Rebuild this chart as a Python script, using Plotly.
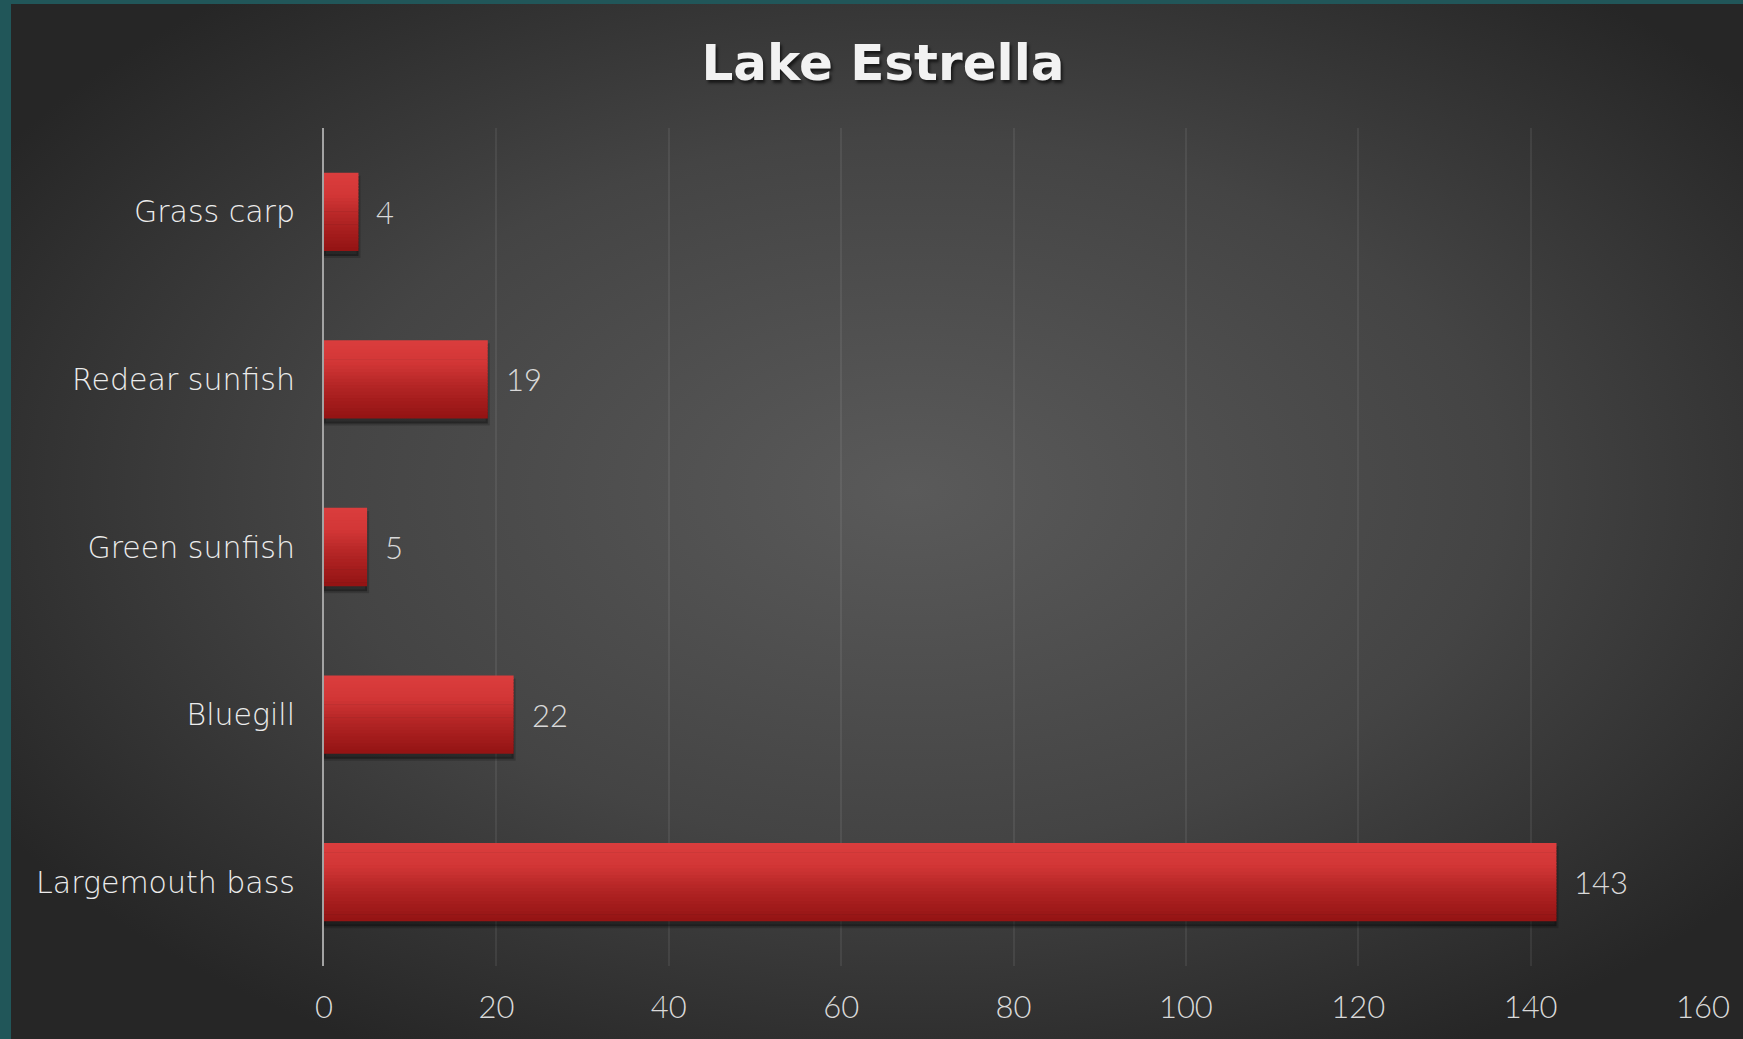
import base64
import plotly.graph_objects as go

# ---- data ----
title = "Lake Estrella"
categories = ["Largemouth bass", "Bluegill", "Green sunfish", "Redear sunfish", "Grass carp"]
counts = [143, 22, 5, 19, 4]
x_ticks = [0, 20, 40, 60, 80, 100, 120, 140, 160]

# ---- geometry / style ----
W, H = 1743, 1039
L, R, T, B = 324, 40, 128, 73
BAR_W = 0.467
label_color = "#d9d9d9"
cat_color = "#ececec"
NUM_FONT = "Lato"
CAT_FONT = "DejaVu Sans"

# background: teal frame + radial dark-grey gradient
svg = f'''<svg xmlns="http://www.w3.org/2000/svg" width="{W}" height="{H}" viewBox="0 0 {W} {H}" preserveAspectRatio="none">
<defs><radialGradient id="g" cx="0.52" cy="0.47" r="0.62" gradientUnits="objectBoundingBox">
<stop offset="0" stop-color="#5a5a5a"/><stop offset="0.55" stop-color="#444444"/><stop offset="1" stop-color="#262626"/></radialGradient></defs>
<rect width="{W}" height="{H}" fill="#215659"/>
<rect x="11" y="4" width="{W-11}" height="{H-4}" fill="url(#g)"/></svg>'''
bg_src = "data:image/svg+xml;base64," + base64.b64encode(svg.encode()).decode()

pw = W - L - R
ph = H - T - B

fig = go.Figure()

# shadow
fig.add_trace(go.Bar(
    y=categories, x=counts, orientation="h",
    width=BAR_W, offset=-BAR_W / 2 - 0.03,
    marker=dict(color="rgba(0,0,0,0.35)", line=dict(color="rgba(0,0,0,0.18)", width=4)),
    hoverinfo="skip", showlegend=False,
))

# vertical gradient built from bands
stops = [(0.0, (0xdb, 0x3d, 0x3d)), (0.3, (0xd2, 0x36, 0x36)),
         (0.6, (0xb3, 0x25, 0x25)), (1.0, (0x93, 0x13, 0x13))]

def col_at(t):
    for (t0, c0), (t1, c1) in zip(stops[:-1], stops[1:]):
        if t <= t1:
            f = (t - t0) / (t1 - t0)
            return "rgb(%d,%d,%d)" % tuple(round(a + (b - a) * f) for a, b in zip(c0, c1))
    return "rgb(%d,%d,%d)" % stops[-1][1]

N = 24
h = BAR_W / N
top = BAR_W / 2
for i in range(N):
    ov = 0.004 if i > 0 else 0.0
    fig.add_trace(go.Bar(
        y=categories, x=counts, orientation="h",
        width=h + ov, offset=top - (i + 1) * h,
        marker=dict(color=col_at((i + 0.5) / N), line=dict(width=0)),
        hoverinfo="skip", showlegend=False,
    ))

# data labels
for c, v in zip(categories, counts):
    fig.add_annotation(
        x=v, y=c, xref="x", yref="y", text=str(v), showarrow=False,
        xanchor="left", yanchor="middle", xshift=16,
        font=dict(family=NUM_FONT, size=31, color=label_color, weight=300),
    )

fig.update_layout(
    width=W, height=H,
    margin=dict(l=L, r=R, t=T, b=B, pad=0),
    paper_bgcolor="#333333", plot_bgcolor="rgba(0,0,0,0)",
    barmode="overlay",
    showlegend=False,
    title=dict(
        text=title, x=883 / W, xref="container", xanchor="center",
        y=1 - 62 / H, yref="container", yanchor="middle",
        font=dict(family="DejaVu Sans", size=50, color="#f2f2f2", weight=700,
                  shadow="2px 3px 3px rgba(0,0,0,0.6)"),
    ),
    images=[dict(
        source=bg_src, xref="paper", yref="paper",
        x=-L / pw, y=1 + T / ph, sizex=W / pw, sizey=H / ph,
        xanchor="left", yanchor="top", sizing="stretch", layer="below",
    )],
    xaxis=dict(
        range=[0, 160], tickvals=x_ticks, ticktext=[str(t) for t in x_ticks],
        showgrid=True, gridcolor="rgba(255,255,255,0.07)", gridwidth=2,
        zeroline=False, showline=False, ticks="",
        tickfont=dict(family=NUM_FONT, size=31, color=label_color, weight=300),
        ticklabelstandoff=20, fixedrange=True,
    ),
    yaxis=dict(
        categoryorder="array", categoryarray=categories,
        range=[-0.5, len(categories) - 0.5],
        showgrid=False, zeroline=False,
        showline=True, linecolor="#a3a3a3", linewidth=2,
        ticks="", ticklabelstandoff=21,
        tickfont=dict(family=CAT_FONT, size=30, color=cat_color, weight=300),
        fixedrange=True,
    ),
)

fig.write_html(
    "out.html",
    config={"displayModeBar": False},
    post_script="document.body.style.margin='0';document.body.style.overflow='hidden';",
)
